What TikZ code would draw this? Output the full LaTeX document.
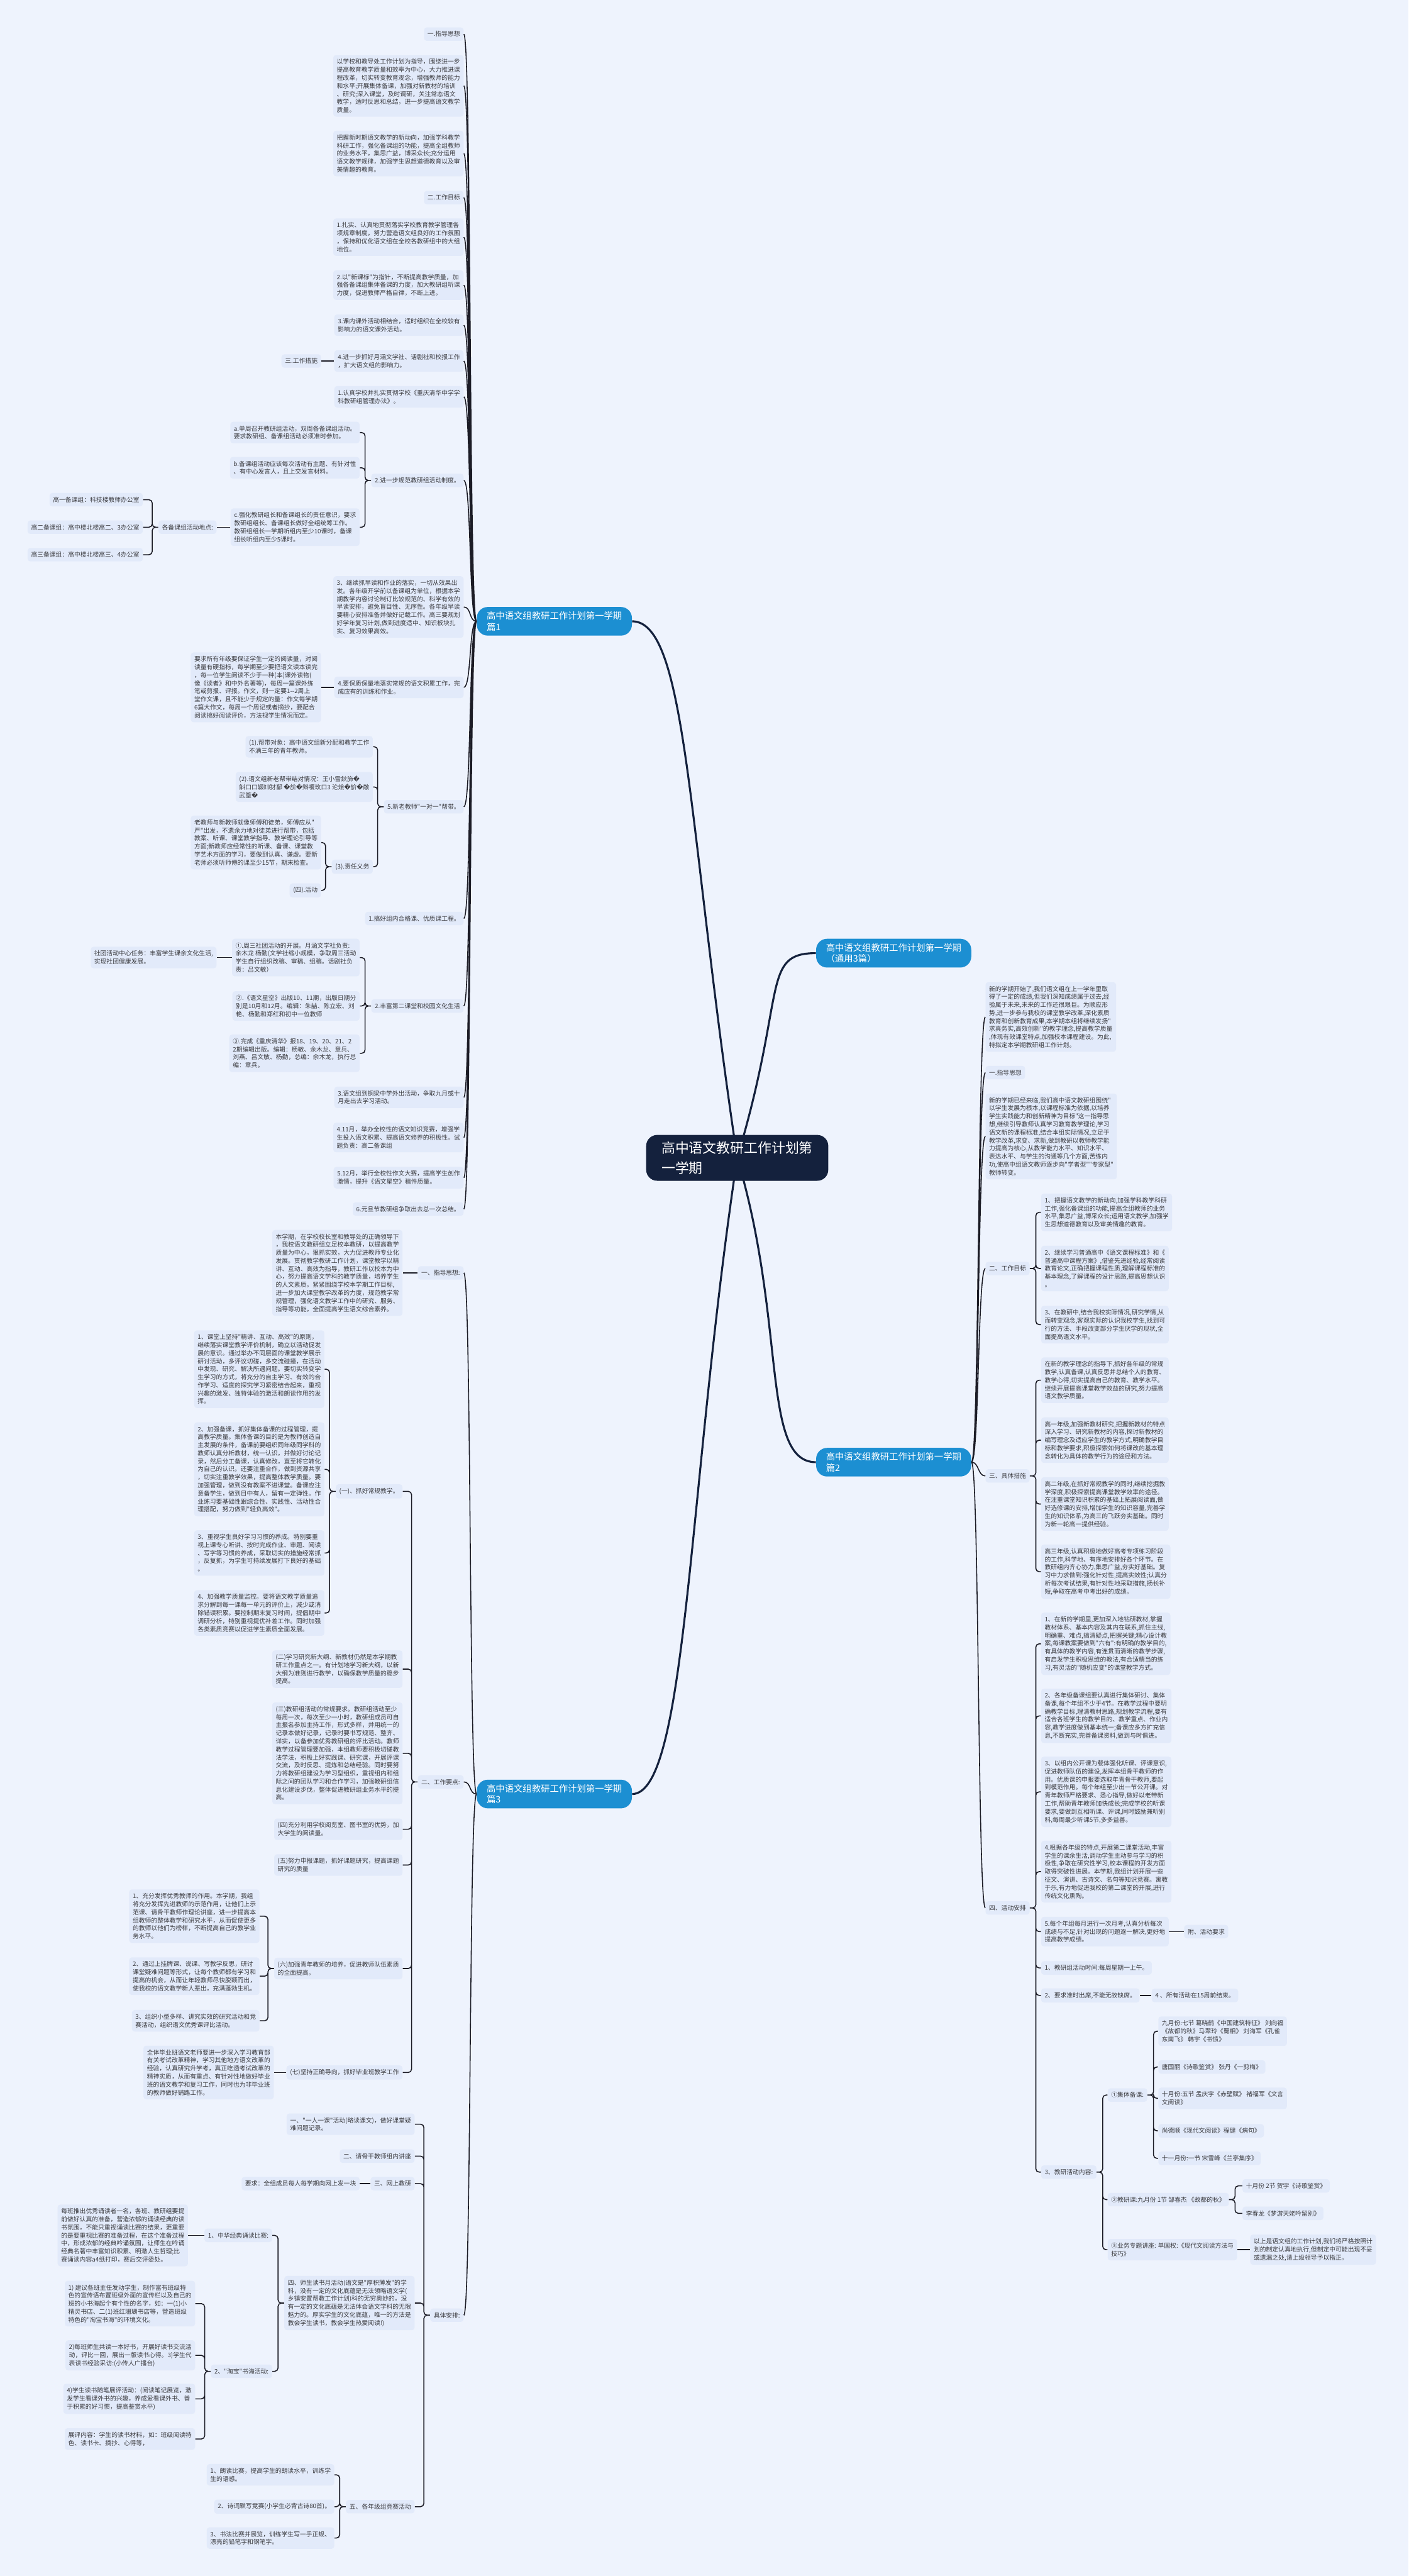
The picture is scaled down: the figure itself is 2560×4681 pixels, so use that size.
\documentclass[tikz,border=0pt]{standalone}
\usepackage{fontspec}
\newfontfamily\cjk{Noto Sans CJK SC}
\newfontfamily\repfont{DejaVu Sans}
\newcommand\badch{{\repfont\symbol{"FFFD}}}
\usetikzlibrary{backgrounds}

\definecolor{pagebg}{RGB}{238,243,253}
\definecolor{boxfill}{RGB}{226,234,250}
\definecolor{inkgray}{RGB}{58,58,62}
\definecolor{linkdark}{RGB}{28,28,38}
\definecolor{rootnavy}{RGB}{20,33,61}
\definecolor{branchblue}{RGB}{28,143,210}

\begin{document}
\begin{tikzpicture}[
    x=0.5pt, y=-0.5pt,
    % Styles
    topic/.style={fill=boxfill, rounded corners=2.5pt, text=inkgray, align=left, inner xsep=3.2pt, inner ysep=3.5pt, font=\cjk\fontsize{5.6}{7.3}\selectfont},
    root_box/.style={fill=rootnavy, text=white, rounded corners=10pt, align=left, inner xsep=14pt, inner ysep=6pt, font=\cjk\fontsize{12.5}{18}\selectfont},
    branch_box/.style={fill=branchblue, text=white, rounded corners=10pt, align=left, inner xsep=9pt, inner ysep=4.2pt, font=\cjk\fontsize{8.2}{10}\selectfont},
    link/.style={draw=linkdark, line width=0.9pt},
    root_link/.style={draw=rootnavy, line width=1.8pt},
    fan_l/.style={link, to path={.. controls +(-14,0) and +(14,0) .. (\tikztotarget)}},
    fan_r/.style={link, to path={.. controls +(14,0) and +(-14,0) .. (\tikztotarget)}},
    elbow_l/.style={link, rounded corners=3pt, to path={-- ++(-11,0) |- (\tikztotarget)}},
    elbow_r/.style={link, rounded corners=3pt, to path={-- ++(11,0) |- (\tikztotarget)}}
]
    \useasboundingbox (0,0) rectangle (2560,4681);

    % 1. ROOT AND PIECES
    \node[root_box] (root) at (1340,2104) {高中语文教研工作计划第\\一学期};
    \node[branch_box, anchor=east] (p1) at (1149,1129) {高中语文组教研工作计划第一学期\\篇1};
    \node[branch_box, anchor=west] (general) at (1483,1732) {高中语文组教研工作计划第一学期\\（通用3篇）};
    \node[branch_box, anchor=west] (p2) at (1483,2657) {高中语文组教研工作计划第一学期\\篇2};
    \node[branch_box, anchor=east] (p3) at (1149,3260) {高中语文组教研工作计划第一学期\\篇3};

    % 2. PIECE 1 (left, upper half)
    \node[topic, anchor=east] (p1_guide) at (843,62) {一.指导思想};
    \node[topic, anchor=east] (p1_guide_a) at (843,156) {以学校和教导处工作计划为指导，围绕进一步\\提高教育教学质量和效率为中心，大力推进课\\程改革，切实转变教育观念，增强教师的能力\\和水平;开展集体备课，加强对新教材的培训\\、研究;深入课堂，及时调研，关注常态语文\\教学，适时反思和总结，进一步提高语文教学\\质量。};
    \node[topic, anchor=east] (p1_guide_b) at (843,279) {把握新时期语文教学的新动向，加强学科教学\\科研工作，强化备课组的功能，提高全组教师\\的业务水平，集思广益，博采众长;充分运用\\语文教学规律，加强学生思想道德教育以及审\\美情趣的教育。};
    \node[topic, anchor=east] (p1_goal) at (843,359) {二.工作目标};
    \node[topic, anchor=east] (p1_goal_1) at (843,431) {1.扎实、认真地贯彻落实学校教育教学管理各\\项规章制度，努力营造语文组良好的工作氛围\\，保持和优化语文组在全校各教研组中的大组\\地位。};
    \node[topic, anchor=east] (p1_goal_2) at (843,518) {2.以"新课标"为指针，不断提高教学质量，加\\强各备课组集体备课的力度，加大教研组听课\\力度，促进教师严格自律，不断上进。};
    \node[topic, anchor=east] (p1_goal_3) at (843,591) {3.课内课外活动相结合，适时组织在全校较有\\影响力的语文课外活动。};
    \node[topic, anchor=east] (p1_goal_4) at (843,656) {4.进一步抓好月涵文学社、话剧社和校报工作\\，扩大语文组的影响力。};
    \node[topic, anchor=east] (p1_measures) at (584,656) {三.工作措施};
    \node[topic, anchor=east] (p1_rule_1) at (843,721) {1.认真学校并扎实贯彻学校《重庆清华中学学\\科教研组管理办法》。};
    \node[topic, anchor=east] (p1_rule_2) at (843,873) {2.进一步规范教研组活动制度。};
    \node[topic, anchor=east] (p1_rule_2a) at (654,786) {a.单周召开教研组活动，双周各备课组活动。\\要求教研组、备课组活动必须准时参加。};
    \node[topic, anchor=east] (p1_rule_2b) at (654,850) {b.备课组活动应该每次活动有主题、有针对性\\、有中心发言人，且上交发言材料。};
    \node[topic, anchor=east] (p1_rule_2c) at (654,958) {c.强化教研组长和备课组长的责任意识，要求\\教研组组长、备课组长做好全组统筹工作。\\教研组组长一学期听组内至少10课时，备课\\组长听组内至少5课时。};
    \node[topic, anchor=east] (p1_rooms) at (394,958) {各备课组活动地点:};
    \node[topic, anchor=east] (p1_room_1) at (260,908) {高一备课组：科技楼教师办公室};
    \node[topic, anchor=east] (p1_room_2) at (260,958) {高二备课组：高中楼北楼高二、3办公室};
    \node[topic, anchor=east] (p1_room_3) at (260,1008) {高三备课组：高中楼北楼高三、4办公室};
    \node[topic, anchor=east] (p1_rule_3) at (843,1103) {3、继续抓早读和作业的落实，一切从效果出\\发。各年级开学前以备课组为单位，根据本学\\期教学内容讨论制订比较规范的、科学有效的\\早读安排，避免盲目性、无序性。各年级早读\\要精心安排准备并做好记载工作。高三要规划\\好学年复习计划,做到进度适中、知识板块扎\\实、复习效果高效。};
    \node[topic, anchor=east] (p1_rule_4) at (843,1249) {4.要保质保量地落实常规的语文积累工作，完\\成应有的训练和作业。};
    \node[topic, anchor=east] (p1_reading) at (584,1249) {要求所有年级要保证学生一定的阅读量，对阅\\读量有硬指标，每学期至少要把语文读本读完\\，每一位学生阅读不少于一种(本)课外读物(\\像《读者》和中外名著等)，每周一篇课外练\\笔或剪报、评报。作文，则一定要1-\kern0pt-2周上\\堂作文课，且不能少于规定的量：作文每学期\\6篇大作文，每周一个周记或者摘抄，要配合\\阅读搞好阅读评价，方法视学生情况而定。};
    \node[topic, anchor=east] (p1_rule_5) at (843,1466) {5.新老教师"一对一"帮带。};
    \node[topic, anchor=east] (p1_pair_1) at (678,1357) {(1).帮带对象：高中语文组新分配和教学工作\\不满三年的青年教师。};
    \node[topic, anchor=east] (p1_pair_2) at (678,1430) {(2).语文组新老帮带结对情况：王小雪鈥斾\badch\\斛口口辍⒀犲鄐 \badch 斺\badch 斞嗄玫口3 沦烩\badch 斺\badch 敵\\武篁\badch};
    \node[topic, anchor=east] (p1_pair_3) at (678,1575) {(3).责任义务};
    \node[topic, anchor=east] (p1_duty) at (584,1531) {老教师与新教师就像师傅和徒弟，师傅应从"\\严"出发，不遗余力地对徒弟进行帮带，包括\\教案、听课、课堂教学指导、教学理论引导等\\方面;新教师应经常性的听课、备课、课堂教\\学艺术方面的学习，要做到认真、谦虚。要新\\老师必须听师傅的课至少15节，期末检查。};
    \node[topic, anchor=east] (p1_act) at (584,1618) {(四).活动};
    \node[topic, anchor=east] (p1_act_1) at (843,1669) {1.搞好组内合格课、优质课工程。};
    \node[topic, anchor=east] (p1_act_2) at (843,1828) {2.丰富第二课堂和校园文化生活};
    \node[topic, anchor=east] (p1_club) at (654,1740) {①.周三社团活动的开展。月涵文学社负责:\\余木龙 杨勤(文学社缩小规模，争取周三活动\\学生自行组织改稿、审稿、组稿。话剧社负\\责：吕文敏）};
    \node[topic, anchor=east] (p1_club_aim) at (394,1740) {社团活动中心任务：丰富学生课余文化生活,\\实现社团健康发展。};
    \node[topic, anchor=east] (p1_mag) at (654,1828) {②.《语文星空》出版10、11期，出版日期分\\别是10月和12月。编辑：朱喆、陈立宏、刘\\艳、杨勤和郑红和初中一位教师};
    \node[topic, anchor=east] (p1_paper) at (654,1914) {③.完成《重庆清华》报18、19、20、21、2\\2期编辑出版。编辑：杨敏、余木龙、章兵、\\刘燕、吕文敏、杨勤，总编：余木龙，执行总\\编：章兵。};
    \node[topic, anchor=east] (p1_act_3) at (843,1994) {3.语文组到铜梁中学外出活动，争取九月或十\\月走出去学习活动。};
    \node[topic, anchor=east] (p1_act_4) at (843,2067) {4.11月，举办全校性的语文知识竞赛，增强学\\生投入语文积累、提高语文修养的积极性。试\\题负责：高二备课组};
    \node[topic, anchor=east] (p1_act_5) at (843,2140) {5.12月，举行全校性作文大赛，提高学生创作\\激情，提升《语文星空》稿件质量。};
    \node[topic, anchor=east] (p1_act_6) at (843,2197) {6.元旦节教研组争取出去总一次总结。};

    \draw[fan_l] (p1.west) to (p1_guide.east) (p1.west) to (p1_guide_a.east) (p1.west) to (p1_guide_b.east)
        (p1.west) to (p1_goal.east) (p1.west) to (p1_goal_1.east) (p1.west) to (p1_goal_2.east)
        (p1.west) to (p1_goal_3.east) (p1.west) to (p1_goal_4.east) (p1.west) to (p1_rule_1.east)
        (p1.west) to (p1_rule_2.east) (p1.west) to (p1_rule_3.east) (p1.west) to (p1_rule_4.east)
        (p1.west) to (p1_rule_5.east) (p1.west) to (p1_act_1.east) (p1.west) to (p1_act_2.east)
        (p1.west) to (p1_act_3.east) (p1.west) to (p1_act_4.east) (p1.west) to (p1_act_5.east)
        (p1.west) to (p1_act_6.east);
    \draw[link] (p1_goal_4.west) -- (p1_measures.east);
    \draw[elbow_l] (p1_rule_2.west) to (p1_rule_2a.east) (p1_rule_2.west) to (p1_rule_2b.east) (p1_rule_2.west) to (p1_rule_2c.east);
    \draw[link] (p1_rule_2c.west) -- (p1_rooms.east);
    \draw[elbow_l] (p1_rooms.west) to (p1_room_1.east) (p1_rooms.west) to (p1_room_2.east) (p1_rooms.west) to (p1_room_3.east);
    \draw[link] (p1_rule_4.west) -- (p1_reading.east);
    \draw[elbow_l] (p1_rule_5.west) to (p1_pair_1.east) (p1_rule_5.west) to (p1_pair_2.east) (p1_rule_5.west) to (p1_pair_3.east);
    \draw[elbow_l] (p1_pair_3.west) to (p1_duty.east) (p1_pair_3.west) to (p1_act.east);
    \draw[elbow_l] (p1_act_2.west) to (p1_club.east) (p1_act_2.west) to (p1_mag.east) (p1_act_2.west) to (p1_paper.east);
    \draw[link] (p1_club.west) -- (p1_club_aim.east);

    % 3. PIECE 3 (left, lower half)
    \node[topic, anchor=east] (p3_guide) at (843,2313) {一、指导思想:};
    \node[topic, anchor=east] (p3_guide_a) at (732,2313) {本学期，在学校校长室和教导处的正确领导下\\，我校语文教研组立足校本教研，以提高教学\\质量为中心，狠抓实效，大力促进教师专业化\\发展。贯彻教学教研工作计划，课堂教学以精\\讲、互动、高效为指导，教研工作以校本为中\\心，努力提高语文学科的教学质量，培养学生\\的人文素质。紧紧围绕学校本学期工作目标,\\进一步加大课堂教学改革的力度，规范教学常\\规管理，强化语文教学工作中的研究、服务、\\指导等功能，全面提高学生语文综合素养。};
    \node[topic, anchor=east] (p3_points) at (843,3238) {二、工作要点:};
    \node[topic, anchor=east] (p3_pt_1) at (732,2710) {(一)、抓好常规教学。};
    \node[topic, anchor=east] (p3_pt_1a) at (590,2488) {1、课堂上坚持"精讲、互动、高效"的原则，\\继续落实课堂教学评价机制，确立以活动促发\\展的意识。通过举办不同层面的课堂教学展示\\研讨活动，多评议切磋，多交流碰撞，在活动\\中发现、研究、解决所遇问题。要切实转变学\\生学习的方式，将充分的自主学习、有效的合\\作学习、适度的探究学习紧密结合起来，重视\\兴趣的激发、独特体验的激活和朗读作用的发\\挥。};
    \node[topic, anchor=east] (p3_pt_1b) at (590,2670) {2、加强备课，抓好集体备课的过程管理，提\\高教学质量。集体备课的目的是为教师创造自\\主发展的条件，备课前要组织同年级同学科的\\教师认真分析教材，统一认识，并做好讨论记\\录，然后分工备课，认真修改，直至将它转化\\为自己的认识。还要注重合作，做到资源共享\\，切实注重教学效果，提高整体教学质量。要\\加强管理，做到没有教案不进课堂。备课应注\\意备学生，做到目中有人，留有一定弹性。作\\业练习要基础性跟综合性、实践性、活动性合\\理搭配，努力做到"轻负高效"。};
    \node[topic, anchor=east] (p3_pt_1c) at (590,2822) {3、重视学生良好学习习惯的养成。特别要重\\视上课专心听讲、按时完成作业、审题、阅读\\、写字等习惯的养成，采取切实的措施经常抓\\，反复抓，为学生可持续发展打下良好的基础\\。};
    \node[topic, anchor=east] (p3_pt_1d) at (590,2931) {4、加强教学质量监控。要将语文教学质量追\\求分解到每一课每一单元的评价上，减少或消\\除错误积累。要控制期末复习时间，提倡期中\\调研分析，特别重视提优补差工作。同时加强\\各类素质竞赛以促进学生素质全面发展。};
    \node[topic, anchor=east] (p3_pt_2) at (732,3033) {(二)学习研究新大纲、新教材仍然是本学期教\\研工作重点之一。有计划地学习新大纲，以新\\大纲为准则进行教学，以确保教学质量的稳步\\提高。};
    \node[topic, anchor=east] (p3_pt_3) at (732,3186) {(三)教研组活动的常规要求。教研组活动至少\\每周一次，每次至少一小时，教研组成员可自\\主报名参加主持工作，形式多样，并用统一的\\记录本做好记录，记录时要书写规范、整齐、\\详实，以备参加优秀教研组的评比活动。教师\\教学过程管理要加强，本组教师要积极切磋教\\法学法，积极上好实践课、研究课，开展评课\\交流，及时反思、提炼和总结经验。同时要努\\力将教研组建设为学习型组织，重视组内和组\\际之间的团队学习和合作学习，加强教研组信\\息化建设步伐，整体促进教研组业务水平的提\\高。};
    \node[topic, anchor=east] (p3_pt_4) at (732,3324) {(四)充分利用学校阅览室、图书室的优势，加\\大学生的阅读量。};
    \node[topic, anchor=east] (p3_pt_5) at (732,3389) {(五)努力申报课题，抓好课题研究，提高课题\\研究的质量};
    \node[topic, anchor=east] (p3_pt_6) at (732,3577) {(六)加强青年教师的培养，促进教师队伍素质\\的全面提高。};
    \node[topic, anchor=east] (p3_pt_6a) at (472,3482) {1、充分发挥优秀教师的作用。本学期，我组\\将充分发挥先进教师的示范作用，让他们上示\\范课、请骨干教师作理论讲座，进一步提高本\\组教师的整体教学和研究水平，从而促使更多\\的教师以他们为榜样，不断提高自己的教学业\\务水平。};
    \node[topic, anchor=east] (p3_pt_6b) at (472,3591) {2、通过上挂牌课、说课、写教学反思，研讨\\课堂疑难问题等形式，让每个教师都有学习和\\提高的机会，从而让年轻教师尽快脱颖而出，\\使我校的语文教学新人辈出，充满蓬勃生机。};
    \node[topic, anchor=east] (p3_pt_6c) at (472,3672) {3、组织小型多样、讲究实效的研究活动和竞\\赛活动，组织语文优秀课评比活动。};
    \node[topic, anchor=east] (p3_pt_7) at (732,3766) {(七)坚持正确导向，抓好毕业班教学工作};
    \node[topic, anchor=east] (p3_grad) at (498,3766) {全体毕业班语文老师要进一步深入学习教育部\\有关考试改革精神，学习其他地方语文改革的\\经验，认真研究升学考，真正吃透考试改革的\\精神实质，从而有重点、有针对性地做好毕业\\班的语文教学和复习工作，同时也为非毕业班\\的教师做好铺路工作。};
    \node[topic, anchor=east] (p3_plan) at (843,4207) {具体安排:};
    \node[topic, anchor=east] (p3_plan_1) at (754,3860) {一、"一人一课"活动(略读课文)，做好课堂疑\\难问题记录。};
    \node[topic, anchor=east] (p3_plan_2) at (754,3918) {二、请骨干教师组内讲座};
    \node[topic, anchor=east] (p3_plan_3) at (754,3968) {三、网上教研};
    \node[topic, anchor=east] (p3_online) at (654,3968) {要求：全组成员每人每学期向网上发一块};
    \node[topic, anchor=east] (p3_plan_4) at (754,4185) {四、师生读书月活动(语文是"厚积薄发"的学\\科，没有一定的文化底蕴是无法领略语文学(\\乡镇安置帮教工作计划)科的无穷奥妙的，没\\有一定的文化底蕴是无法体会语文学科的无限\\魅力的。厚实学生的文化底蕴，唯一的方法是\\教会学生读书，教会学生热爱阅读!)};
    \node[topic, anchor=east] (p3_recite) at (495,4062) {1、中华经典诵读比赛:};
    \node[topic, anchor=east] (p3_recite_a) at (342,4062) {每班推出优秀诵读者一名，各班、教研组要提\\前做好认真的准备，营造浓郁的诵读经典的读\\书氛围，不能只重视诵读比赛的结果，更重要\\的是要重视比赛的准备过程，在这个准备过程\\中，形成浓郁的经典吟诵氛围，让师生在吟诵\\经典名著中丰富知识积累、明澈人生哲理;比\\赛诵读内容a4纸打印，赛后交评委处。};
    \node[topic, anchor=east] (p3_books) at (495,4309) {2、"淘宝"书海活动:};
    \node[topic, anchor=east] (p3_books_a) at (355,4186) {1) 建议各班主任发动学生，制作富有班级特\\色的宣传语布置班级外面的宣传栏以及自己的\\班的小书海起个有个性的名字，如：一(1)小\\精灵书店、二(1)班红珊瑚书店等，营造班级\\特色的"淘宝书海"的环境文化。};
    \node[topic, anchor=east] (p3_books_b) at (355,4280) {2)每班师生共读一本好书，开展好读书交流活\\动，评比一回，展出一版读书心得。3)学生代\\表读书经验采访:(小传人广播台)};
    \node[topic, anchor=east] (p3_books_c) at (355,4359) {4)学生读书随笔展评活动：(阅读笔记展览，激\\发学生看课外书的兴趣，养成爱看课外书、善\\于积累的好习惯，提高鉴赏水平)};
    \node[topic, anchor=east] (p3_books_d) at (355,4432) {展评内容：学生的读书材料，如：班级阅读特\\色、读书卡、摘抄、心得等，};
    \node[topic, anchor=east] (p3_plan_5) at (754,4555) {五、各年级组竞赛活动};
    \node[topic, anchor=east] (p3_contest_1) at (608,4497) {1、朗读比赛，提高学生的朗读水平，训练学\\生的语感。};
    \node[topic, anchor=east] (p3_contest_2) at (608,4555) {2、诗词默写竞赛(小学生必背古诗80首)。};
    \node[topic, anchor=east] (p3_contest_3) at (608,4612) {3、书法比赛并展览，训练学生写一手正规、\\漂亮的铅笔字和钢笔字。};

    \draw[fan_l] (p3.west) to (p3_guide.east) (p3.west) to (p3_points.east) (p3.west) to (p3_plan.east);
    \draw[link] (p3_guide.west) -- (p3_guide_a.east);
    \draw[elbow_l] (p3_points.west) to (p3_pt_1.east) (p3_points.west) to (p3_pt_2.east) (p3_points.west) to (p3_pt_3.east)
        (p3_points.west) to (p3_pt_4.east) (p3_points.west) to (p3_pt_5.east) (p3_points.west) to (p3_pt_6.east)
        (p3_points.west) to (p3_pt_7.east);
    \draw[elbow_l] (p3_pt_1.west) to (p3_pt_1a.east) (p3_pt_1.west) to (p3_pt_1b.east) (p3_pt_1.west) to (p3_pt_1c.east) (p3_pt_1.west) to (p3_pt_1d.east);
    \draw[elbow_l] (p3_pt_6.west) to (p3_pt_6a.east) (p3_pt_6.west) to (p3_pt_6b.east) (p3_pt_6.west) to (p3_pt_6c.east);
    \draw[link] (p3_pt_7.west) -- (p3_grad.east);
    \draw[elbow_l] (p3_plan.west) to (p3_plan_1.east) (p3_plan.west) to (p3_plan_2.east) (p3_plan.west) to (p3_plan_3.east)
        (p3_plan.west) to (p3_plan_4.east) (p3_plan.west) to (p3_plan_5.east);
    \draw[link] (p3_plan_3.west) -- (p3_online.east);
    \draw[elbow_l] (p3_plan_4.west) to (p3_recite.east) (p3_plan_4.west) to (p3_books.east);
    \draw[link] (p3_recite.west) -- (p3_recite_a.east);
    \draw[elbow_l] (p3_books.west) to (p3_books_a.east) (p3_books.west) to (p3_books_b.east) (p3_books.west) to (p3_books_c.east) (p3_books.west) to (p3_books_d.east);
    \draw[elbow_l] (p3_plan_5.west) to (p3_contest_1.east) (p3_plan_5.west) to (p3_contest_2.east) (p3_plan_5.west) to (p3_contest_3.east);

    % 4. PIECE 2 (right)
    \node[topic, anchor=west] (p2_intro) at (1791,1848) {新的学期开始了,我们语文组在上一学年里取\\得了一定的成绩,但我们深知成绩属于过去,经\\验属于未来,未来的工作还很艰巨。为顺应形\\势,进一步参与我校的课堂教学改革,深化素质\\教育和创新教育成果,本学期本组将继续发扬"\\求真务实,高效创新"的教学理念,提高教学质量\\,体现有效课堂特点,加强校本课程建设。为此,\\特拟定本学期教研组工作计划。};
    \node[topic, anchor=west] (p2_guide) at (1791,1949) {一.指导思想};
    \node[topic, anchor=west] (p2_guide_a) at (1791,2065) {新的学期已经来临,我们高中语文教研组围绕"\\以学生发展为根本,以课程标准为依据,以培养\\学生实践能力和创新精神为目标"这一指导思\\想,继续引导教师认真学习教育教学理论,学习\\语文新的课程标准,结合本组实际情况,立足于\\教学改革,求变、求新,做到教研以教师教学能\\力提高为核心,从教学能力水平、知识水平、\\表达水平、与学生的沟通等几个方面,苦练内\\功,使高中组语文教师逐步向"学者型""专家型"\\教师转变。};
    \node[topic, anchor=west] (p2_goal) at (1791,2305) {二、工作目标};
    \node[topic, anchor=west] (p2_goal_1) at (1892,2203) {1、把握语文教学的新动向,加强学科教学科研\\工作,强化备课组的功能,提高全组教师的业务\\水平,集思广益,博采众长;运用语文教学,加强学\\生思想道德教育以及审美情趣的教育。};
    \node[topic, anchor=west] (p2_goal_2) at (1892,2305) {2、继续学习普通高中《语文课程标准》和《\\普通高中课程方案》,借鉴先进经验,经常阅读\\教育论文,正确把握课程性质,理解课程标准的\\基本理念,了解课程的设计思路,提高思想认识\\。};
    \node[topic, anchor=west] (p2_goal_3) at (1892,2407) {3、在教研中,结合我校实际情况,研究学情,从\\而转变观念,客观实际的认识我校学生,找到可\\行的方法、手段改变部分学生厌学的现状,全\\面提高语文水平。};
    \node[topic, anchor=west] (p2_steps) at (1791,2682) {三、具体措施};
    \node[topic, anchor=west] (p2_step_1) at (1892,2508) {在新的教学理念的指导下,抓好各年级的常规\\教学,认真备课,认真反思并总结个人的教育、\\教学心得,切实提高自己的教育、教学水平。\\继续开展提高课堂教学效益的研究,努力提高\\语文教学质量。};
    \node[topic, anchor=west] (p2_step_2) at (1892,2617) {高一年级,加强新教材研究,把握新教材的特点\\深入学习、研究新教材的内容,探讨新教材的\\编写理念及适应学生的教学方式,明确教学目\\标和教学要求,积极探索如何将课改的基本理\\念转化为具体的教学行为的途径和方法。};
    \node[topic, anchor=west] (p2_step_3) at (1892,2733) {高二年级,在抓好常规教学的同时,继续挖掘教\\学深度,积极探索提高课堂教学效率的途径。\\在注重课堂知识积累的基础上拓展阅读面,做\\好选修课的安排,增加学生的知识容量,完善学\\生的知识体系,为高三的飞跃夯实基础。同时\\为新一轮高一提供经验。};
    \node[topic, anchor=west] (p2_step_4) at (1892,2856) {高三年级,认真积极地做好高考专项练习阶段\\的工作,科学地、有序地安排好各个环节。在\\教研组内齐心协力,集思广益,夯实好基础。复\\习中力求做到:强化针对性,提高实效性;认真分\\析每次考试结果,有针对性地采取措施,扬长补\\短,争取在高考中考出好的成绩。};
    \node[topic, anchor=west] (p2_acts) at (1791,3467) {四、活动安排};
    \node[topic, anchor=west] (p2_act_1) at (1892,2987) {1、在新的学期里,更加深入地钻研教材,掌握\\教材体系、基本内容及其内在联系,抓住主线,\\明确重、难点,搞清疑点,把握关键;精心设计教\\案,每课教案要做到"六有":有明确的教学目的,\\有具体的教学内容,有连贯而清晰的教学步骤,\\有启发学生积极思维的教法,有合适精当的练\\习,有灵活的"随机应变"的课堂教学方式。};
    \node[topic, anchor=west] (p2_act_2) at (1892,3118) {2、各年级备课组要认真进行集体研讨、集体\\备课,每个年组不少于4节。在教学过程中要明\\确教学目标,理清教材思路,规划教学流程,要有\\适合各班学生的教学目的、教学重点、作业内\\容,教学进度做到基本统一;备课应多方扩充信\\息,不断充实,完善备课资料,做到与时俱进。};
    \node[topic, anchor=west] (p2_act_3) at (1892,3256) {3、以组内公开课为载体强化听课、评课意识,\\促进教师队伍的建设,发挥本组骨干教师的作\\用。优质课的申报要选取年青骨干教师,要起\\到模范作用。每个年组至少出一节公开课。对\\青年教师严格要求、悉心指导,做好以老带新\\工作,帮助青年教师加快成长;完成学校的听课\\要求,要做到互相听课、评课,同时鼓励兼听别\\科,每周最少听课5节,多多益善。};
    \node[topic, anchor=west] (p2_act_4) at (1892,3401) {4.根据各年级的特点,开展第二课堂活动,丰富\\学生的课余生活,调动学生主动参与学习的积\\极性,争取在研究性学习,校本课程的开发方面\\取得突破性进展。本学期,我组计划开展一些\\征文、演讲、古诗文、名句等知识竞赛。寓教\\于乐,有力地促进我校的第二课堂的开展,进行\\传统文化熏陶。};
    \node[topic, anchor=west] (p2_act_5) at (1892,3510) {5.每个年组每月进行一次月考,认真分析每次\\成绩与不足,针对出现的问题逐一解决,更好地\\提高教学成绩。};
    \node[topic, anchor=west] (p2_req) at (2152,3510) {附、活动要求};
    \node[topic, anchor=west] (p2_time) at (1892,3576) {1、教研组活动时间:每周星期一上午。};
    \node[topic, anchor=west] (p2_attend) at (1892,3626) {2、要求准时出席,不能无故缺席。};
    \node[topic, anchor=west] (p2_end) at (2093,3626) {4 、所有活动在15周前结束。};
    \node[topic, anchor=west] (p2_content) at (1892,3947) {3、教研活动内容:};
    \node[topic, anchor=west] (p2_prep) at (2013,3807) {①集体备课:};
    \node[topic, anchor=west] (p2_prep_1) at (2105,3691) {九月份:七节 葛晓鹤《中国建筑特征》 刘向福\\《故都的秋》马翠玲《蜀相》 刘海军《孔雀\\东南飞》 韩宇《书愤》};
    \node[topic, anchor=west] (p2_prep_2) at (2105,3756) {唐国丽《诗歌鉴赏》 张丹《一剪梅》};
    \node[topic, anchor=west] (p2_prep_3) at (2105,3813) {十月份:五节 孟庆宇《赤壁赋》 褚福军《文言\\文阅读》};
    \node[topic, anchor=west] (p2_prep_4) at (2105,3872) {尚德顺《现代文阅读》程健《病句》};
    \node[topic, anchor=west] (p2_prep_5) at (2105,3922) {十一月份:一节 宋雪峰《兰亭集序》};
    \node[topic, anchor=west] (p2_demo) at (2013,3997) {②教研课:九月份 1节 邹春杰 《故都的秋》};
    \node[topic, anchor=west] (p2_demo_1) at (2258,3972) {十月份 2节 贺宇《诗歌鉴赏》};
    \node[topic, anchor=west] (p2_demo_2) at (2258,4022) {李春龙《梦游天姥吟留别》};
    \node[topic, anchor=west] (p2_talk) at (2013,4088) {③业务专题讲座: 单国权:《现代文阅读方法与\\技巧》};
    \node[topic, anchor=west] (p2_close) at (2272,4088) {以上是语文组的工作计划,我们将严格按照计\\划的制定认真地执行,但制定中可能出现不妥\\或遗漏之处,请上级领导予以指正。};

    \draw[fan_r] (p2.east) to (p2_intro.west) (p2.east) to (p2_guide.west) (p2.east) to (p2_guide_a.west)
        (p2.east) to (p2_goal.west) (p2.east) to (p2_steps.west) (p2.east) to (p2_acts.west);
    \draw[elbow_r] (p2_goal.east) to (p2_goal_1.west) (p2_goal.east) to (p2_goal_2.west) (p2_goal.east) to (p2_goal_3.west);
    \draw[elbow_r] (p2_steps.east) to (p2_step_1.west) (p2_steps.east) to (p2_step_2.west) (p2_steps.east) to (p2_step_3.west) (p2_steps.east) to (p2_step_4.west);
    \draw[elbow_r] (p2_acts.east) to (p2_act_1.west) (p2_acts.east) to (p2_act_2.west) (p2_acts.east) to (p2_act_3.west)
        (p2_acts.east) to (p2_act_4.west) (p2_acts.east) to (p2_act_5.west) (p2_acts.east) to (p2_time.west)
        (p2_acts.east) to (p2_attend.west) (p2_acts.east) to (p2_content.west);
    \draw[link] (p2_act_5.east) -- (p2_req.west);
    \draw[link] (p2_attend.east) -- (p2_end.west);
    \draw[elbow_r] (p2_content.east) to (p2_prep.west) (p2_content.east) to (p2_demo.west) (p2_content.east) to (p2_talk.west);
    \draw[elbow_r] (p2_prep.east) to (p2_prep_1.west) (p2_prep.east) to (p2_prep_2.west) (p2_prep.east) to (p2_prep_3.west)
        (p2_prep.east) to (p2_prep_4.west) (p2_prep.east) to (p2_prep_5.west);
    \draw[elbow_r] (p2_demo.east) to (p2_demo_1.west) (p2_demo.east) to (p2_demo_2.west);
    \draw[link] (p2_talk.east) -- (p2_close.west);

    % 5. PAGE AND ROOT LINKS (behind the root box)
    \begin{scope}[on background layer]
        \fill[pagebg] (0,0) rectangle (2560,4681);
        \draw[root_link] (p1.east) .. controls +(100,0) and +(-90,-600) .. (root.center);
        \draw[root_link] (p3.east) .. controls +(100,0) and +(-90,600) .. (root.center);
        \draw[root_link] (general.west) .. controls +(-100,0) and +(90,-300) .. (root.center);
        \draw[root_link] (p2.west) .. controls +(-100,0) and +(90,300) .. (root.center);
    \end{scope}

\end{tikzpicture}
\end{document}
